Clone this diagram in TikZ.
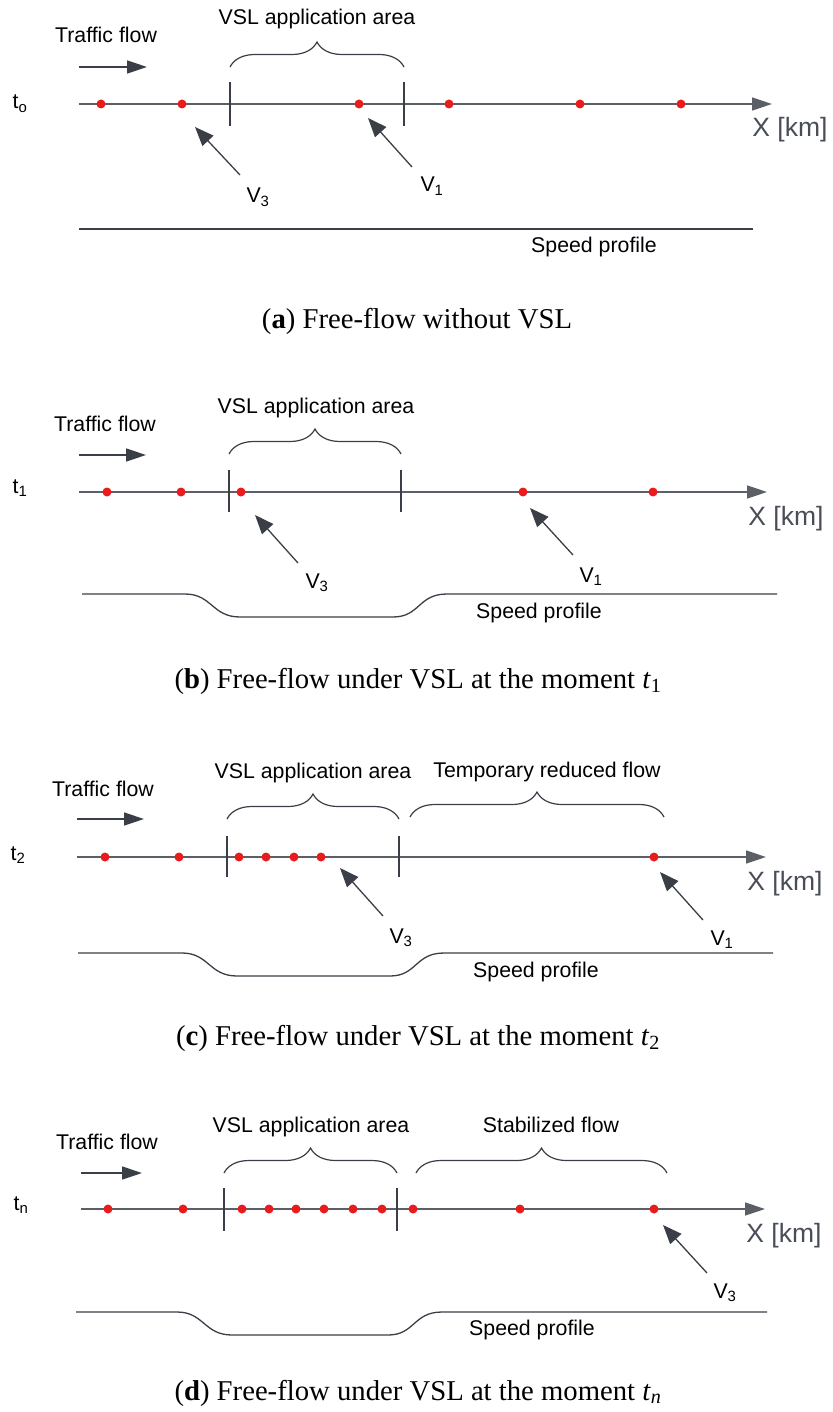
\documentclass[tikz,border=0pt]{standalone}
\usepackage{fontspec}
\setmainfont{Liberation Serif}
\setsansfont{Liberation Sans}
\usetikzlibrary{arrows.meta,decorations.pathreplacing}
\definecolor{linegray}{RGB}{58,63,71}
\definecolor{axisgray}{RGB}{92,96,102}
\definecolor{kmgray}{RGB}{72,77,87}
\definecolor{dotred}{RGB}{232,28,28}

\begin{document}
\begin{tikzpicture}[x=1pt,y=-1pt,
  lbl/.style={font=\sffamily\fontsize{21.3}{25}\selectfont,anchor=base,inner sep=0pt},
  kmlbl/.style={font=\sffamily\fontsize{26.5}{30}\selectfont,text=kmgray,anchor=base,inner sep=0pt},
  captxt/.style={font=\rmfamily\fontsize{28.7}{33}\selectfont,anchor=base,inner sep=0pt},
  axis/.style={axisgray,line width=1.5pt,-{Triangle[length=20pt,width=13pt]}},
  flow/.style={linegray,line width=1.5pt,-{Triangle[length=20pt,width=13pt]}},
  pointer/.style={linegray,line width=1.3pt,-{Triangle[length=19pt,width=15pt]}},
  bar/.style={linegray,line width=1.8pt},
  brc/.style={linegray,line width=1.2pt,decorate,decoration={brace,amplitude=25pt}},
  prof/.style={linegray,line width=1.3pt},
  veh/.style={circle,fill=dotred,inner sep=0pt,minimum size=9pt}]
\useasboundingbox (0,0) rectangle (832,1412);

% (a) t_o
\node[lbl] (flowa) at (106,43) {Traffic flow};
\coordinate (fa0) at (79,67); \coordinate (fa1) at (147,67);
\draw[flow] (fa0) -- (fa1);
\node[lbl] (ta) at (20,109) {t\textsubscript{o}};
\coordinate (xa0) at (79,104); \coordinate (xa1) at (772,104);
\draw[axis] (xa0) -- (xa1);
\node[kmlbl] (kma) at (790,137) {X [km]};
\draw[bar] (230,82) -- (230,126); \draw[bar] (404,82) -- (404,126);
\draw[brc] (230,67) -- (404,67);
\node[lbl] (vsla) at (317,25) {VSL application area};
\node[veh] (a1) at (101,104) {}; \node[veh] (a2) at (182,104) {}; \node[veh] (a3) at (359,104) {};
\node[veh] (a4) at (449,104) {}; \node[veh] (a5) at (580,104) {}; \node[veh] (a6) at (681,104) {};
\node[lbl] (v3a) at (258,203) {V\textsubscript{3}};
\coordinate (v3a0) at (240,175); \coordinate (v3a1) at (195,127);
\draw[pointer] (v3a0) -- (v3a1);
\node[lbl] (v1a) at (432,192) {V\textsubscript{1}};
\coordinate (v1a0) at (412,167); \coordinate (v1a1) at (368,118);
\draw[pointer] (v1a0) -- (v1a1);
\draw[prof] (79,229) -- (753,229);
\node[lbl] (spa) at (594,253) {Speed profile};
\node[captxt] (capa) at (417,328) {(\textbf{a}) Free-flow without VSL};

% (b) t_1
\node[lbl] (flowb) at (105,431) {Traffic flow};
\coordinate (fb0) at (79,455); \coordinate (fb1) at (146,455);
\draw[flow] (fb0) -- (fb1);
\node[lbl] (tb) at (20,493) {t\textsubscript{1}};
\coordinate (xb0) at (79,492); \coordinate (xb1) at (767,492);
\draw[axis] (xb0) -- (xb1);
\node[kmlbl] (kmb) at (786,525) {X [km]};
\draw[bar] (229,470) -- (229,512); \draw[bar] (401,470) -- (401,512);
\draw[brc] (229,454) -- (401,454);
\node[lbl] (vslb) at (316,413) {VSL application area};
\node[veh] (b1) at (107,492) {}; \node[veh] (b2) at (181,492) {}; \node[veh] (b3) at (241,492) {};
\node[veh] (b4) at (523,492) {}; \node[veh] (b5) at (653,492) {};
\node[lbl] (v3b) at (317,588) {V\textsubscript{3}};
\coordinate (v3b0) at (298,563); \coordinate (v3b1) at (255,515);
\draw[pointer] (v3b0) -- (v3b1);
\node[lbl] (v1b) at (591,582) {V\textsubscript{1}};
\coordinate (v1b0) at (573,555); \coordinate (v1b1) at (530,508);
\draw[pointer] (v1b0) -- (v1b1);
\draw[prof] (82,594) -- (185,594) .. controls (212,594) and (212,617) .. (240,617)
  -- (393,617) .. controls (420,617) and (418,594) .. (447,594) -- (777,594);
\node[lbl] (spb) at (539,618) {Speed profile};
\node[captxt] (capb) at (418,688) {(\textbf{b}) Free-flow under VSL at the moment \textit{t}\textsubscript{1}};

% (c) t_2
\node[lbl] (flowc) at (103,796) {Traffic flow};
\coordinate (fc0) at (77,819); \coordinate (fc1) at (144,819);
\draw[flow] (fc0) -- (fc1);
\node[lbl] (tc) at (18,860) {t\textsubscript{2}};
\coordinate (xc0) at (77,857); \coordinate (xc1) at (766,857);
\draw[axis] (xc0) -- (xc1);
\node[kmlbl] (kmc) at (785,890) {X [km]};
\draw[bar] (227,836) -- (227,877); \draw[bar] (399,836) -- (399,877);
\draw[brc] (227,819) -- (399,819);
\draw[brc] (410,817) -- (664,817);
\node[lbl] (vslc) at (313,778) {VSL application area};
\node[lbl] (redc) at (547,777) {Temporary reduced flow};
\node[veh] (c1) at (105,857) {}; \node[veh] (c2) at (179,857) {}; \node[veh] (c3) at (239,857) {};
\node[veh] (c4) at (266,857) {}; \node[veh] (c5) at (294,857) {}; \node[veh] (c6) at (321,857) {};
\node[veh] (c7) at (654,857) {};
\node[lbl] (v3c) at (401,943) {V\textsubscript{3}};
\coordinate (v3c0) at (383,916); \coordinate (v3c1) at (340,868);
\draw[pointer] (v3c0) -- (v3c1);
\node[lbl] (v1c) at (722,945) {V\textsubscript{1}};
\coordinate (v1c0) at (703,920); \coordinate (v1c1) at (660,872);
\draw[pointer] (v1c0) -- (v1c1);
\draw[prof] (78,953) -- (182,953) .. controls (209,953) and (209,976) .. (237,976)
  -- (390,976) .. controls (417,976) and (415,953) .. (444,953) -- (773,953);
\node[lbl] (spc) at (536,977) {Speed profile};
\node[captxt] (capc) at (418,1045) {(\textbf{c}) Free-flow under VSL at the moment \textit{t}\textsubscript{2}};

% (d) t_n
\node[lbl] (flowd) at (107,1149) {Traffic flow};
\coordinate (fd0) at (81,1173); \coordinate (fd1) at (142,1173);
\draw[flow] (fd0) -- (fd1);
\node[lbl] (td) at (21,1210) {t\textsubscript{n}};
\coordinate (xd0) at (81,1209); \coordinate (xd1) at (765,1209);
\draw[axis] (xd0) -- (xd1);
\node[kmlbl] (kmd) at (784,1242) {X [km]};
\draw[bar] (224,1188) -- (224,1231); \draw[bar] (397,1188) -- (397,1231);
\draw[brc] (224,1173) -- (397,1173);
\draw[brc] (416,1173) -- (667,1173);
\node[lbl] (vsld) at (311,1132) {VSL application area};
\node[lbl] (stad) at (551,1132) {Stabilized flow};
\node[veh] (d1) at (108,1209) {}; \node[veh] (d2) at (183,1209) {}; \node[veh] (d3) at (242,1209) {};
\node[veh] (d4) at (269,1209) {}; \node[veh] (d5) at (296,1209) {}; \node[veh] (d6) at (324,1209) {};
\node[veh] (d7) at (353,1209) {}; \node[veh] (d8) at (382,1209) {}; \node[veh] (d9) at (413,1209) {};
\node[veh] (d10) at (520,1209) {}; \node[veh] (d11) at (654,1209) {};
\node[lbl] (v3d) at (725,1298) {V\textsubscript{3}};
\coordinate (v3d0) at (707,1273); \coordinate (v3d1) at (663,1225);
\draw[pointer] (v3d0) -- (v3d1);
\draw[prof] (76,1312) -- (177,1312) .. controls (204,1312) and (204,1335) .. (232,1335)
  -- (388,1335) .. controls (415,1335) and (413,1312) .. (442,1312) -- (767,1312);
\node[lbl] (spd) at (532,1335) {Speed profile};
\node[captxt] (capd) at (418,1400) {(\textbf{d}) Free-flow under VSL at the moment \textit{t}\textsubscript{\textit{n}}};
\end{tikzpicture}
\end{document}
